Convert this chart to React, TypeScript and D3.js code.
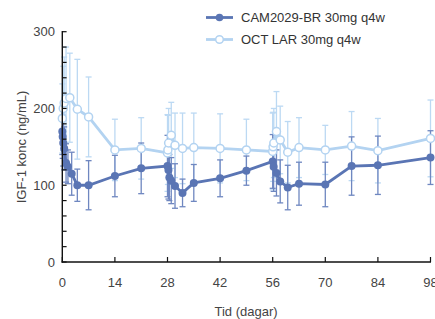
import React from "react";
import * as d3 from "d3";

const camDays = [0, 0.1, 0.25, 0.5, 1, 1.5, 2.5, 4, 7, 14, 21, 28, 28.25, 28.5, 29, 30, 32, 35, 42, 49, 56, 56.25, 57, 58, 60, 63, 70, 77, 84, 98];
const camMean = [170, 163, 155, 148, 129, 124, 115, 100, 100, 112, 122, 125, 120, 110, 106, 99, 90, 103, 109, 119, 131, 124, 116, 105, 97, 102, 101, 125, 126, 136];
const camSd = [30, 28, 30, 28, 25, 22, 28, 21, 32, 27, 33, 40, 38, 30, 30, 29, 18, 24, 24, 19, 35, 32, 30, 28, 29, 28, 29, 38, 38, 35];

const octDays = [0, 0.25, 0.5, 1, 2, 4, 7, 14, 21, 28, 28.1, 28.3, 29, 30, 32, 35, 42, 49, 56, 56.1, 56.3, 57, 58, 60, 63, 70, 77, 84, 98];
const octMean = [187, 200, 207, 213, 214, 199, 189, 146, 148, 142, 146, 155, 165, 152, 148, 149, 148, 146, 144, 150, 155, 170, 159, 143, 149, 146, 151, 145, 161];
const octSd = [45, 55, 60, 67, 58, 65, 52, 40, 40, 50, 45, 45, 43, 42, 46, 45, 45, 40, 50, 45, 45, 52, 44, 40, 39, 32, 45, 42, 50];

const xTicks = [0, 14, 28, 42, 56, 70, 84, 98];
const yMajor = [0, 100, 200, 300];
const yMinor = d3.range(0, 301, 20);

const seriesNames = ["CAM2029-BR 30mg q4w", "OCT LAR 30mg q4w"];
const xTitle = "Tid (dagar)";
const yTitle = "IGF-1 konc (ng/mL)";

const CAM = "#5a75b4";
const CAM_BAR = "#6f87c0";
const OCT = "#b3d3f1";
const OCT_BAR = "#bcd9f3";
const FONT = "'Liberation Sans', Arial, sans-serif";

export default function App() {
  const W = 435, H = 319;
  const x = d3.scaleLinear().domain([0, 98]).range([62.3, 430.5]);
  const y = d3.scaleLinear().domain([0, 300]).range([262, 31.7]);

  const mk = (days: number[], mean: number[], sd: number[]) =>
    days.map((d, i) => ({ d, m: mean[i], s: sd[i] }));
  const cam = mk(camDays, camMean, camSd);
  const oct = mk(octDays, octMean, octSd);
  const line = d3.line<{ d: number; m: number }>().x(p => x(p.d)).y(p => y(p.m));

  const bars = (data: { d: number; m: number; s: number }[], color: string, key: string) =>
    data.map((p, i) => {
      const cx = x(p.d);
      const y1 = y(p.m + p.s), y2 = y(Math.max(0, p.m - p.s));
      return (
        <g key={key + i} stroke={color} strokeWidth={1.3}>
          <line x1={cx} x2={cx} y1={y1} y2={y2} />
          <line x1={cx - 3} x2={cx + 3} y1={y1} y2={y1} />
          <line x1={cx - 3} x2={cx + 3} y1={y2} y2={y2} />
        </g>
      );
    });

  return (
    <svg width={W} height={H} style={{ position: "absolute", left: 0, top: 0 }} fontFamily={FONT}>
      {/* OCT series */}
      {bars(oct, OCT_BAR, "ob")}
      <path d={line(oct) || ""} fill="none" stroke={OCT} strokeWidth={2.8} />
      {/* CAM series */}
      {bars(cam, CAM_BAR, "cb")}
      <path d={line(cam) || ""} fill="none" stroke={CAM} strokeWidth={2.8} />
      {oct.map((p, i) => (
        <circle key={"oc" + i} cx={x(p.d)} cy={y(p.m)} r={4} fill="#fff" stroke={OCT} strokeWidth={1.5} />
      ))}
      {cam.map((p, i) => (
        <circle key={"cc" + i} cx={x(p.d)} cy={y(p.m)} r={4} fill={CAM} />
      ))}

      {/* axes */}
      <line x1={62.3} x2={62.3} y1={31} y2={262.7} stroke="#111" strokeWidth={1.4} />
      <line x1={61.6} x2={431} y1={262} y2={262} stroke="#111" strokeWidth={1.4} />
      {yMinor.map(v => (
        <line key={"ym" + v} x1={62.3} x2={66.6} y1={y(v)} y2={y(v)} stroke="#111" strokeWidth={1.2} />
      ))}
      {yMajor.map(v => (
        <text key={"yl" + v} x={55} y={y(v) + 4.5} textAnchor="end" fontSize={13} fill="#444">{v}</text>
      ))}
      {xTicks.map(v => (
        <g key={"xt" + v}>
          <line x1={x(v)} x2={x(v)} y1={262} y2={257} stroke="#111" strokeWidth={1.2} />
          <text x={x(v)} y={286.5} textAnchor="middle" fontSize={13} fill="#444">{v}</text>
        </g>
      ))}
      <text x={246} y={316} textAnchor="middle" fontSize={13} fill="#444">{xTitle}</text>
      <text transform={`translate(26,147) rotate(-90)`} textAnchor="middle" fontSize={13} fill="#444">{yTitle}</text>

      {/* legend */}
      {[CAM, OCT].map((c, i) => (
        <g key={"lg" + i} transform={`translate(0,${17.5 + i * 22})`}>
          <line x1={206} x2={233} y1={0} y2={0} stroke={c} strokeWidth={2.8} />
          {i === 0 ? (
            <circle cx={219.5} cy={0} r={3.8} fill={c} />
          ) : (
            <circle cx={219.5} cy={0} r={3.8} fill="#fff" stroke={c} strokeWidth={1.5} />
          )}
          <text x={241} y={4.6} fontSize={13} fill="#333">{seriesNames[i]}</text>
        </g>
      ))}
    </svg>
  );
}
